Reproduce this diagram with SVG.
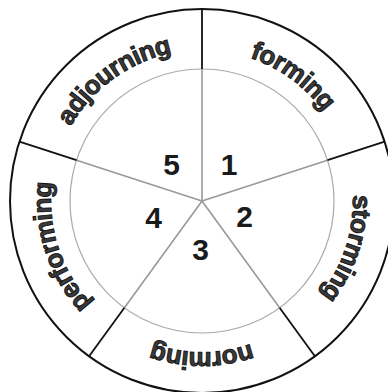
<svg xmlns="http://www.w3.org/2000/svg" width="388" height="392" viewBox="0 0 388 392">
<style>
.lbl{font-family:"Liberation Sans",Arial,sans-serif;font-weight:bold;font-size:26px;letter-spacing:-0.6px;fill:#3a3a3a;stroke:#111;stroke-width:0.9px;}
.num{font-family:"Liberation Sans",Arial,sans-serif;font-weight:bold;font-size:30px;fill:#1a1a1a;text-anchor:middle;}
.in{stroke:#999;stroke-width:1.6;fill:none;}
.out{stroke:#111;stroke-width:1.8;fill:none;}
</style>
<defs>
<path id="pForming" d="M140.6,63.1 A151,151 0 0 1 352.2,216.8"/>
<path id="pStorming" d="M314.2,100 A151,151 0 0 1 233.4,348.7"/>
<path id="pNorming" d="M332.8,276.5 A151,151 0 0 1 71.2,276.5"/>
<path id="pPerforming" d="M170.6,348.7 A151,151 0 0 1 89.8,100"/>
<path id="pAdjourning" d="M51.8,216.8 A151,151 0 0 1 263.4,63.1"/>
</defs>
<rect width="388" height="392" fill="#fff"/>
<circle cx="202" cy="201" r="192" fill="none" stroke="#111" stroke-width="2"/>
<circle cx="202" cy="201" r="132" fill="none" stroke="#aaa" stroke-width="1.2"/>
<g id="connectors">
<line class="in" x1="202" y1="201" x2="202" y2="69"/>
<line class="out" x1="202" y1="69" x2="202" y2="9"/>
<line class="in" x1="202" y1="201" x2="327.5" y2="160.2"/>
<line class="out" x1="327.5" y1="160.2" x2="384.6" y2="141.7"/>
<line class="in" x1="202" y1="201" x2="279.6" y2="307.8"/>
<line class="out" x1="279.6" y1="307.8" x2="314.9" y2="356.3"/>
<line class="in" x1="202" y1="201" x2="124.4" y2="307.8"/>
<line class="out" x1="124.4" y1="307.8" x2="89.1" y2="356.3"/>
<line class="in" x1="202" y1="201" x2="76.5" y2="160.2"/>
<line class="out" x1="76.5" y1="160.2" x2="19.4" y2="141.7"/>
</g>
<g id="forming">
<text class="lbl"><textPath href="#pForming" startOffset="50%" text-anchor="middle">forming</textPath></text>
<text class="num" x="229" y="175">1</text>
</g>
<g id="storming">
<text class="lbl"><textPath href="#pStorming" startOffset="50%" text-anchor="middle">storming</textPath></text>
<text class="num" x="244.5" y="227">2</text>
</g>
<g id="norming">
<text class="lbl"><textPath href="#pNorming" startOffset="50%" text-anchor="middle">norming</textPath></text>
<text class="num" x="200.5" y="260">3</text>
</g>
<g id="performing">
<text class="lbl"><textPath href="#pPerforming" startOffset="50%" text-anchor="middle">performing</textPath></text>
<text class="num" x="153.5" y="228">4</text>
</g>
<g id="adjourning">
<text class="lbl"><textPath href="#pAdjourning" startOffset="50%" text-anchor="middle">adjourning</textPath></text>
<text class="num" x="171.5" y="175">5</text>
</g>
</svg>
